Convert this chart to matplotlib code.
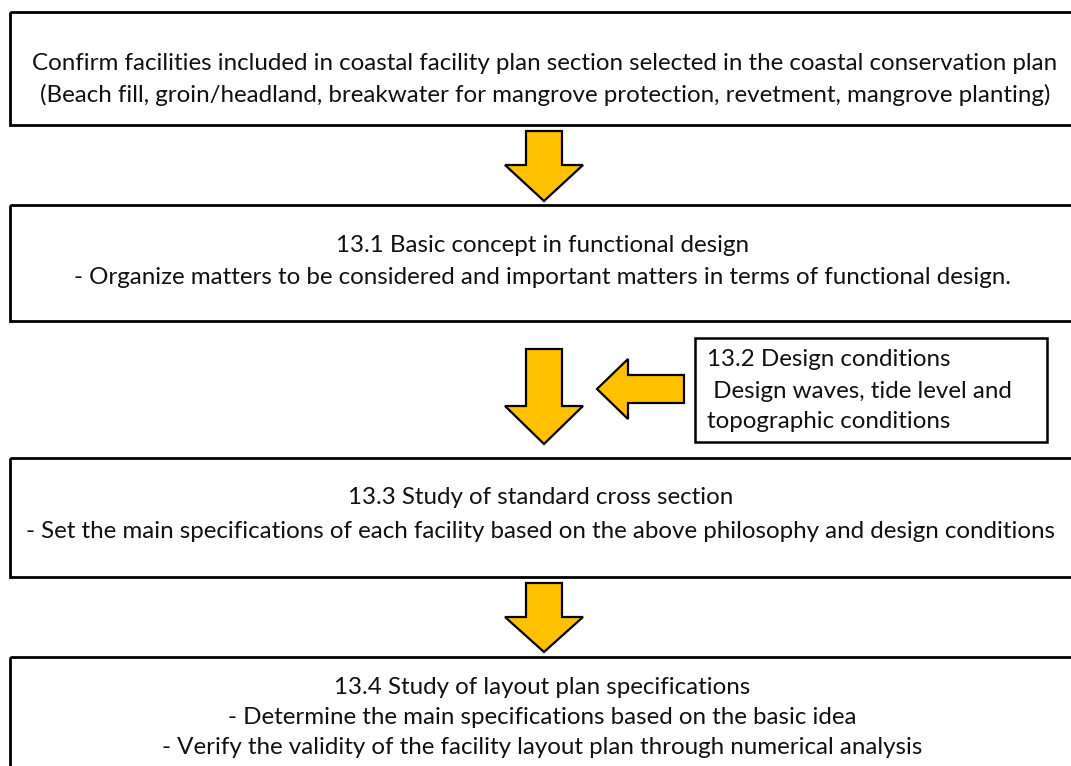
import matplotlib
matplotlib.use('Agg')
import matplotlib.pyplot as plt
from matplotlib.patches import Rectangle, Polygon

plt.rcParams['font.family'] = ['Lato', 'DejaVu Sans']

# 流程框文字
step1_lines = [
    "Confirm facilities included in coastal facility plan section selected in the coastal conservation plan",
    "(Beach fill, groin/headland, breakwater for mangrove protection, revetment, mangrove planting)",
]
step2_lines = [
    "13.1 Basic concept in functional design",
    "- Organize matters to be considered and important matters in terms of functional design.",
]
side_lines = [
    "13.2 Design conditions",
    " Design waves, tide level and",
    "topographic conditions",
]
step3_lines = [
    "13.3 Study of standard cross section",
    "- Set the main specifications of each facility based on the above philosophy and design conditions",
]
step4_lines = [
    "13.4 Study of layout plan specifications",
    "- Determine the main specifications based on the basic idea",
    "- Verify the validity of the facility layout plan through numerical analysis",
]

ARROW_COLOR = '#FFC000'
FS = 17.4


def box(ax, x0, y0, x1, y1, lw=2.0):
    ax.add_patch(Rectangle((x0, y0), x1 - x0, y1 - y0, fill=False,
                           edgecolor='black', linewidth=lw))


def lines(ax, x, y0, dy, texts, ha='center'):
    for i, t in enumerate(texts):
        ax.text(x, y0 + i * dy, t, ha=ha, va='center', fontsize=FS, color='#111111')


def down_arrow(ax, cx, top, neck, tip, shaft_hw=18, head_hw=39):
    pts = [(cx - shaft_hw, top), (cx + shaft_hw, top), (cx + shaft_hw, neck),
           (cx + head_hw, neck), (cx, tip), (cx - head_hw, neck), (cx - shaft_hw, neck)]
    ax.add_patch(Polygon(pts, closed=True, facecolor=ARROW_COLOR,
                         edgecolor='black', linewidth=1.6, joinstyle='miter'))


def left_arrow(ax, cy, tip, neck, right, shaft_hw=14, head_hw=30):
    pts = [(right, cy - shaft_hw), (right, cy + shaft_hw), (neck, cy + shaft_hw),
           (neck, cy + head_hw), (tip, cy), (neck, cy - head_hw), (neck, cy - shaft_hw)]
    ax.add_patch(Polygon(pts, closed=True, facecolor=ARROW_COLOR,
                         edgecolor='black', linewidth=1.6, joinstyle='miter'))


fig = plt.figure(figsize=(10.71, 7.66), dpi=100)
ax = fig.add_axes([0, 0, 1, 1])
ax.set_xlim(0, 1071)
ax.set_ylim(766, 0)
ax.axis('off')

# 主流程框
box(ax, 10, 12, 1100, 125)
lines(ax, 545, 63, 32, step1_lines)

down_arrow(ax, 544, 131, 165, 201)

box(ax, 10, 205, 1100, 321)
lines(ax, 542, 246, 32, step2_lines)

down_arrow(ax, 544, 349, 406, 444)
left_arrow(ax, 389, 597, 628, 684)

box(ax, 695, 338, 1047, 442, lw=1.8)
lines(ax, 707, 360, 31, side_lines, ha='left')

box(ax, 10, 458, 1100, 577)
lines(ax, 541, 498, 33, step3_lines)

down_arrow(ax, 544, 583, 617, 652)

box(ax, 10, 657, 1100, 800)
lines(ax, 542, 688, 30, step4_lines)

plt.savefig('out.png', dpi=100)
